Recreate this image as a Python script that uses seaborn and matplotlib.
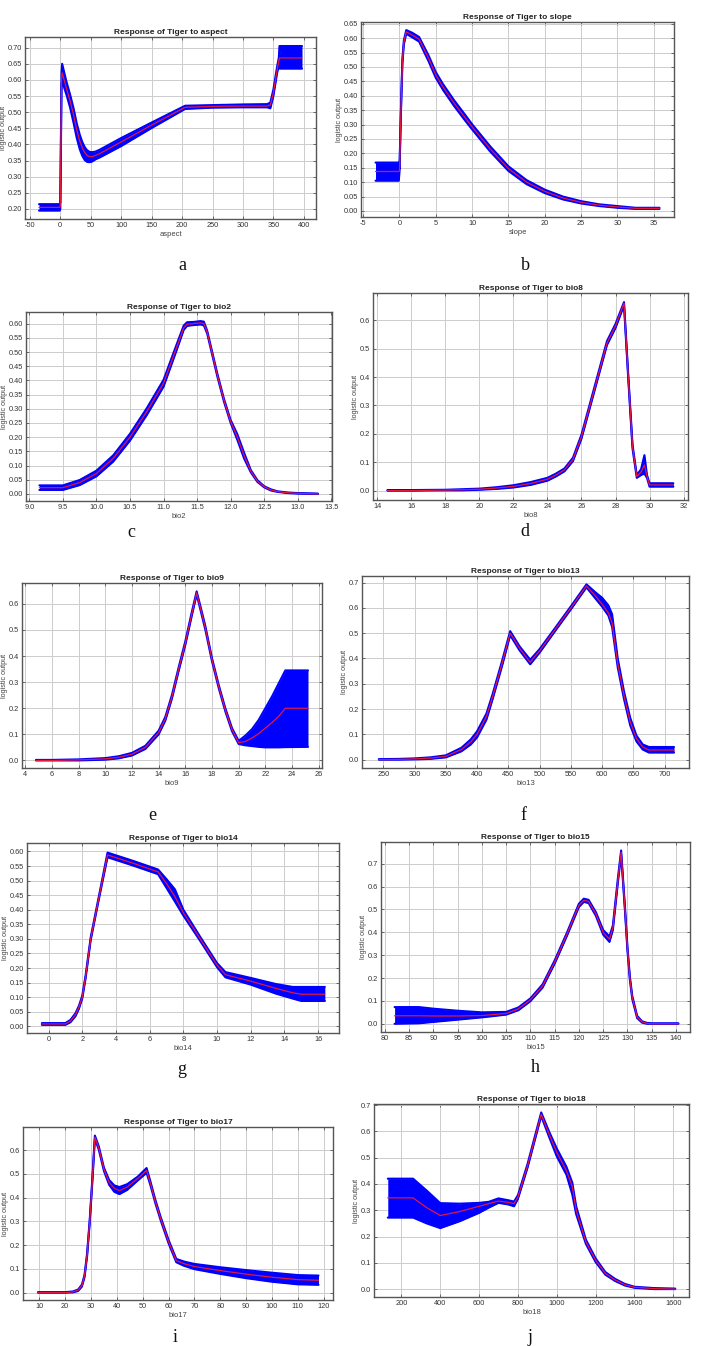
import numpy as np
import matplotlib
matplotlib.use("Agg")
import matplotlib.pyplot as plt
from matplotlib.ticker import MultipleLocator, FormatStrFormatter
import seaborn as sns

# ---- data (x, mean, lower, upper) ----
aspect_x = [-35, -1, 0, 2, 3, 10, 16, 22, 27, 32, 36, 40, 44, 48, 52, 58, 65, 100, 150, 205, 250, 300, 340, 345, 350, 356, 359, 360, 397]
aspect_mean = [0.205, 0.205, 0.21, 0.60, 0.622, 0.575, 0.535, 0.49, 0.445, 0.41, 0.39, 0.375, 0.366, 0.362, 0.362, 0.366, 0.372, 0.408, 0.46, 0.515, 0.518, 0.519, 0.519, 0.522, 0.56, 0.63, 0.66, 0.668, 0.668]
aspect_lo = [0.195, 0.195, 0.20, 0.585, 0.595, 0.555, 0.515, 0.465, 0.42, 0.385, 0.365, 0.352, 0.346, 0.345, 0.347, 0.354, 0.36, 0.395, 0.451, 0.51, 0.514, 0.515, 0.515, 0.512, 0.55, 0.62, 0.648, 0.635, 0.635]
aspect_hi = [0.215, 0.215, 0.22, 0.62, 0.65, 0.595, 0.555, 0.51, 0.465, 0.43, 0.408, 0.392, 0.382, 0.377, 0.376, 0.378, 0.384, 0.42, 0.468, 0.52, 0.522, 0.524, 0.525, 0.53, 0.57, 0.64, 0.67, 0.705, 0.705]

slope_x = [-3.3, -0.1, 0, 0.2, 0.4, 0.6, 0.93, 1.8, 2.7, 4, 5, 6, 7.5, 9, 10, 12.5, 15, 17.5, 20, 22.5, 25, 27.5, 30, 32.5, 35.8]
slope_mean = [0.137, 0.137, 0.14, 0.35, 0.52, 0.585, 0.622, 0.61, 0.596, 0.53, 0.472, 0.43, 0.375, 0.325, 0.292, 0.215, 0.147, 0.10, 0.068, 0.045, 0.03, 0.02, 0.014, 0.009, 0.009]
slope_lo = [0.105, 0.105, 0.135, 0.345, 0.512, 0.578, 0.615, 0.602, 0.588, 0.52, 0.462, 0.42, 0.365, 0.315, 0.283, 0.206, 0.139, 0.093, 0.062, 0.040, 0.026, 0.017, 0.011, 0.007, 0.007]
slope_hi = [0.168, 0.168, 0.145, 0.355, 0.528, 0.592, 0.628, 0.618, 0.604, 0.54, 0.482, 0.44, 0.385, 0.335, 0.301, 0.224, 0.155, 0.107, 0.074, 0.050, 0.034, 0.023, 0.017, 0.011, 0.011]

bio2_x = [9.15, 9.3, 9.5, 9.75, 10.0, 10.25, 10.5, 10.75, 11.0, 11.2, 11.3, 11.35, 11.45, 11.55, 11.6, 11.65, 11.7, 11.8, 11.9, 12.0, 12.1, 12.2, 12.3, 12.4, 12.5, 12.6, 12.7, 12.85, 13.0, 13.3]
bio2_mean = [0.022, 0.022, 0.022, 0.04, 0.072, 0.125, 0.20, 0.29, 0.39, 0.52, 0.585, 0.598, 0.60, 0.603, 0.60, 0.57, 0.52, 0.42, 0.33, 0.255, 0.20, 0.135, 0.08, 0.045, 0.025, 0.014, 0.008, 0.004, 0.002, 0.0]
bio2_lo = [0.014, 0.014, 0.014, 0.031, 0.062, 0.114, 0.188, 0.278, 0.378, 0.51, 0.578, 0.592, 0.595, 0.597, 0.594, 0.565, 0.515, 0.415, 0.325, 0.25, 0.19, 0.125, 0.076, 0.042, 0.023, 0.012, 0.007, 0.003, 0.001, 0.0]
bio2_hi = [0.030, 0.030, 0.030, 0.049, 0.082, 0.136, 0.212, 0.302, 0.402, 0.53, 0.593, 0.605, 0.606, 0.609, 0.607, 0.575, 0.525, 0.425, 0.335, 0.26, 0.21, 0.145, 0.084, 0.048, 0.027, 0.016, 0.009, 0.005, 0.003, 0.001]

bio8_x = [14.6, 16, 18, 19, 20, 21, 22, 23, 24, 24.5, 25, 25.5, 26, 26.5, 27, 27.5, 28, 28.5, 28.75, 29.0, 29.25, 29.5, 29.7, 29.85, 30.0, 31.4]
bio8_mean = [0.0, 0.0, 0.002, 0.003, 0.005, 0.009, 0.015, 0.025, 0.04, 0.055, 0.073, 0.11, 0.19, 0.30, 0.41, 0.52, 0.58, 0.66, 0.40, 0.155, 0.05, 0.065, 0.09, 0.05, 0.02, 0.02]
bio8_lo = [0.0, 0.0, 0.001, 0.001, 0.003, 0.006, 0.011, 0.02, 0.035, 0.05, 0.068, 0.104, 0.183, 0.293, 0.403, 0.513, 0.573, 0.652, 0.393, 0.148, 0.045, 0.055, 0.06, 0.045, 0.014, 0.014]
bio8_hi = [0.002, 0.002, 0.003, 0.005, 0.007, 0.012, 0.019, 0.03, 0.045, 0.06, 0.078, 0.116, 0.197, 0.307, 0.417, 0.527, 0.587, 0.664, 0.407, 0.162, 0.055, 0.075, 0.125, 0.055, 0.026, 0.026]

bio9_x = [4.8, 6, 8, 10, 11, 12, 13, 14, 14.5, 15, 15.5, 16, 16.5, 16.85, 17.25, 17.5, 18, 18.5, 19, 19.5, 20, 20.5, 21, 21.5, 22, 22.5, 23, 23.5, 25.2]
bio9_mean = [0.0, 0.0, 0.002, 0.006, 0.012, 0.024, 0.05, 0.107, 0.16, 0.245, 0.35, 0.45, 0.565, 0.642, 0.56, 0.508, 0.386, 0.284, 0.194, 0.118, 0.068, 0.073, 0.086, 0.103, 0.124, 0.145, 0.169, 0.20, 0.20]
bio9_lo = [0.0, 0.0, 0.0, 0.003, 0.008, 0.019, 0.044, 0.1, 0.153, 0.238, 0.343, 0.443, 0.558, 0.636, 0.553, 0.501, 0.38, 0.278, 0.188, 0.112, 0.063, 0.058, 0.055, 0.052, 0.05, 0.05, 0.05, 0.051, 0.052]
bio9_hi = [0.002, 0.002, 0.004, 0.009, 0.016, 0.029, 0.056, 0.114, 0.167, 0.252, 0.357, 0.457, 0.572, 0.648, 0.567, 0.515, 0.392, 0.29, 0.2, 0.124, 0.075, 0.095, 0.12, 0.155, 0.20, 0.245, 0.295, 0.345, 0.345]

bio13_x = [243, 275, 300, 325, 350, 375, 390, 400, 415, 425, 440, 453, 468, 485, 500, 525, 550, 575, 590, 600, 610, 616, 625, 635, 645, 655, 665, 675, 715]
bio13_mean = [0.0, 0.001, 0.003, 0.006, 0.013, 0.04, 0.07, 0.10, 0.17, 0.25, 0.38, 0.50, 0.44, 0.385, 0.43, 0.515, 0.60, 0.687, 0.645, 0.615, 0.58, 0.54, 0.38, 0.254, 0.149, 0.083, 0.05, 0.038, 0.038]
bio13_lo = [0.0, 0.0, 0.001, 0.003, 0.009, 0.033, 0.06, 0.088, 0.158, 0.24, 0.37, 0.492, 0.432, 0.377, 0.423, 0.509, 0.594, 0.681, 0.635, 0.605, 0.57, 0.525, 0.365, 0.24, 0.135, 0.072, 0.04, 0.028, 0.028]
bio13_hi = [0.002, 0.003, 0.005, 0.009, 0.017, 0.047, 0.08, 0.112, 0.182, 0.26, 0.39, 0.508, 0.448, 0.395, 0.437, 0.521, 0.606, 0.693, 0.66, 0.64, 0.61, 0.575, 0.40, 0.27, 0.165, 0.095, 0.06, 0.05, 0.05]

bio14_x = [-0.4, 1.0, 1.3, 1.6, 1.8, 2.0, 2.2, 2.5, 3.0, 3.5, 5.0, 6.5, 7.0, 7.5, 8.0, 9.0, 10.0, 10.5, 12.0, 13.5, 14.5, 15.0, 16.4]
bio14_mean = [0.008, 0.008, 0.018, 0.04, 0.065, 0.10, 0.17, 0.30, 0.445, 0.588, 0.56, 0.53, 0.49, 0.445, 0.39, 0.30, 0.21, 0.177, 0.155, 0.13, 0.115, 0.11, 0.11]
bio14_lo = [0.005, 0.005, 0.014, 0.035, 0.06, 0.095, 0.165, 0.295, 0.44, 0.58, 0.552, 0.522, 0.475, 0.428, 0.38, 0.293, 0.203, 0.168, 0.143, 0.112, 0.095, 0.087, 0.087]
bio14_hi = [0.011, 0.011, 0.022, 0.045, 0.07, 0.105, 0.175, 0.305, 0.45, 0.596, 0.568, 0.538, 0.505, 0.47, 0.40, 0.307, 0.217, 0.186, 0.166, 0.145, 0.135, 0.135, 0.135]

bio15_x = [82, 87, 90, 95, 100, 105, 107.5, 110, 112.5, 115, 117.5, 120, 121, 122, 123.5, 125, 126.3, 127, 128, 128.7, 129.5, 130, 130.5, 131, 132, 133, 134, 135, 140.5]
bio15_mean = [0.035, 0.035, 0.034, 0.034, 0.036, 0.045, 0.065, 0.105, 0.165, 0.27, 0.39, 0.518, 0.54, 0.535, 0.48, 0.40, 0.37, 0.42, 0.62, 0.75, 0.50, 0.33, 0.2, 0.115, 0.03, 0.008, 0.002, 0.0, 0.0]
bio15_lo = [0.0, 0.002, 0.008, 0.018, 0.028, 0.04, 0.059, 0.099, 0.158, 0.263, 0.383, 0.511, 0.533, 0.528, 0.472, 0.39, 0.358, 0.41, 0.61, 0.742, 0.492, 0.322, 0.193, 0.108, 0.025, 0.005, 0.0, 0.0, 0.0]
bio15_hi = [0.073, 0.073, 0.066, 0.057, 0.05, 0.052, 0.071, 0.111, 0.172, 0.277, 0.397, 0.525, 0.547, 0.542, 0.488, 0.41, 0.382, 0.43, 0.63, 0.758, 0.508, 0.338, 0.207, 0.122, 0.035, 0.011, 0.004, 0.002, 0.002]

bio17_x = [9.5, 20, 23, 25, 26.5, 27.5, 28.5, 29.5, 30.5, 31.5, 33, 35, 37, 39, 41, 44, 48, 51.5, 53, 55, 57, 60, 63, 66, 70, 80, 90, 100, 110, 118]
bio17_mean = [0.0, 0.0, 0.003, 0.01, 0.03, 0.07, 0.16, 0.30, 0.47, 0.655, 0.61, 0.52, 0.465, 0.44, 0.43, 0.445, 0.48, 0.515, 0.46, 0.38, 0.31, 0.215, 0.135, 0.122, 0.11, 0.093, 0.078, 0.065, 0.055, 0.052]
bio17_lo = [0.0, 0.0, 0.001, 0.007, 0.026, 0.065, 0.154, 0.294, 0.463, 0.648, 0.603, 0.513, 0.455, 0.425, 0.415, 0.433, 0.472, 0.505, 0.452, 0.373, 0.303, 0.208, 0.128, 0.113, 0.099, 0.079, 0.061, 0.046, 0.035, 0.033]
bio17_hi = [0.002, 0.002, 0.005, 0.013, 0.034, 0.075, 0.166, 0.306, 0.477, 0.662, 0.617, 0.527, 0.475, 0.452, 0.445, 0.457, 0.488, 0.525, 0.468, 0.387, 0.317, 0.222, 0.142, 0.131, 0.121, 0.107, 0.095, 0.084, 0.074, 0.072]

bio18_x = [130, 260, 330, 400, 500, 600, 650, 700, 750, 780, 800, 850, 920, 960, 1000, 1050, 1080, 1100, 1150, 1200, 1250, 1300, 1350, 1400, 1500, 1610]
bio18_mean = [0.347, 0.347, 0.31, 0.28, 0.295, 0.315, 0.325, 0.335, 0.33, 0.325, 0.35, 0.47, 0.665, 0.59, 0.52, 0.45, 0.39, 0.30, 0.18, 0.11, 0.06, 0.035, 0.017, 0.007, 0.002, 0.0]
bio18_lo = [0.272, 0.272, 0.25, 0.232, 0.258, 0.29, 0.31, 0.328, 0.322, 0.315, 0.343, 0.463, 0.658, 0.58, 0.505, 0.435, 0.36, 0.285, 0.172, 0.103, 0.055, 0.031, 0.014, 0.005, 0.0, 0.0]
bio18_hi = [0.42, 0.42, 0.375, 0.327, 0.325, 0.328, 0.332, 0.345, 0.338, 0.333, 0.357, 0.477, 0.672, 0.60, 0.535, 0.465, 0.405, 0.315, 0.188, 0.117, 0.065, 0.039, 0.02, 0.009, 0.004, 0.002]

W, H = 709, 1346
RED = "#e3173f"
BLUE = "#0000ff"

# (name, x, mean, lo, hi, box px L R T B, xlim, ylim, xstep, ystep, xfmt, yfmt, letter, letter px)
panels = [
    ("aspect", aspect_x, aspect_mean, aspect_lo, aspect_hi, (25, 316, 37, 219), (-58, 420), (0.169, 0.733), 50, 0.05, "%d", "%.2f", "a", (182, 265)),
    ("slope", slope_x, slope_mean, slope_lo, slope_hi, (361, 674, 22, 217), (-5.3, 37.8), (-0.021, 0.656), 5, 0.05, "%d", "%.2f", "b", (525, 265)),
    ("bio2", bio2_x, bio2_mean, bio2_lo, bio2_hi, (26, 332, 312, 501), (8.95, 13.51), (-0.025, 0.641), 0.5, 0.05, "%.1f", "%.2f", "c", (131, 533)),
    ("bio8", bio8_x, bio8_mean, bio8_lo, bio8_hi, (373, 688, 293, 500), (13.75, 32.26), (-0.033, 0.696), 2, 0.1, "%d", "%.1f", "d", (525, 532)),
    ("bio9", bio9_x, bio9_mean, bio9_lo, bio9_hi, (22, 322, 583, 768), (3.75, 26.25), (-0.029, 0.680), 2, 0.1, "%d", "%.1f", "e", (152, 816)),
    ("bio13", bio13_x, bio13_mean, bio13_lo, bio13_hi, (362, 689, 576, 768), (216, 739), (-0.033, 0.726), 50, 0.1, "%d", "%.1f", "f", (523, 815)),
    ("bio14", bio14_x, bio14_mean, bio14_lo, bio14_hi, (27, 339, 843, 1033), (-1.28, 17.24), (-0.023, 0.629), 2, 0.05, "%d", "%.2f", "g", (182, 1070)),
    ("bio15", bio15_x, bio15_mean, bio15_lo, bio15_hi, (381, 690, 842, 1032), (79.2, 142.9), (-0.036, 0.795), 5, 0.1, "%d", "%.1f", "h", (535, 1068)),
    ("bio17", bio17_x, bio17_mean, bio17_lo, bio17_hi, (23, 333, 1127, 1300), (3.7, 123.6), (-0.031, 0.698), 10, 0.1, "%d", "%.1f", "i", (175, 1337)),
    ("bio18", bio18_x, bio18_mean, bio18_lo, bio18_hi, (374, 689, 1104, 1297), (59, 1681), (-0.030, 0.704), 200, 0.1, "%d", "%.1f", "j", (530, 1338)),
]

sns.set_style("whitegrid", {"grid.color": "#cccccc", "axes.edgecolor": "#555555",
                            "xtick.bottom": True, "ytick.left": True})
plt.rcParams["font.family"] = ["Liberation Sans", "DejaVu Sans"]
plt.rcParams["axes.unicode_minus"] = False

fig = plt.figure(figsize=(W / 100, H / 100), dpi=100)

for (name, x, m, lo, hi, box, xlim, ylim, xs, ys, xf, yf, letter, lpos) in panels:
    L, R, T, B = box
    ax = fig.add_axes([L / W, 1 - B / H, (R - L) / W, (B - T) / H])
    # blue band of replicate runs, red mean response
    ax.fill_between(x, lo, hi, color=BLUE, lw=0, zorder=2)
    ax.plot(x, lo, color=BLUE, lw=1.5, zorder=2)
    ax.plot(x, hi, color=BLUE, lw=1.5, zorder=2)
    sns.lineplot(x=x, y=m, ax=ax, color=RED, lw=0.9, estimator=None, zorder=3)
    ax.set_xlim(*xlim)
    ax.set_ylim(*ylim)
    ax.xaxis.set_major_locator(MultipleLocator(xs))
    ax.yaxis.set_major_locator(MultipleLocator(ys))
    ax.xaxis.set_major_formatter(FormatStrFormatter(xf))
    ax.yaxis.set_major_formatter(FormatStrFormatter(yf))
    ax.tick_params(direction="in", top=True, right=True, length=2.5, width=0.6,
                   color="#555555", labelsize=5.3, labelcolor="#333333", pad=2)
    ax.grid(True, color="#cccccc", lw=0.7)
    for sp in ax.spines.values():
        sp.set_linewidth(1.0)
        sp.set_color("#555555")
    ax.set_title(f"Response of Tiger to {name}", fontsize=6, fontweight="bold",
                 color="#222222", pad=2.5)
    ax.set_xlabel(name, fontsize=5.5, color="#444444", labelpad=1.5)
    ax.set_ylabel("logistic output", fontsize=5.2, color="#444444", labelpad=0.8)
    fig.text(lpos[0] / W, 1 - lpos[1] / H, letter, fontsize=13, ha="center", va="center",
             family=["Liberation Serif", "DejaVu Serif"], color="#111111")

fig.savefig("out.png", dpi=100, facecolor="white")
